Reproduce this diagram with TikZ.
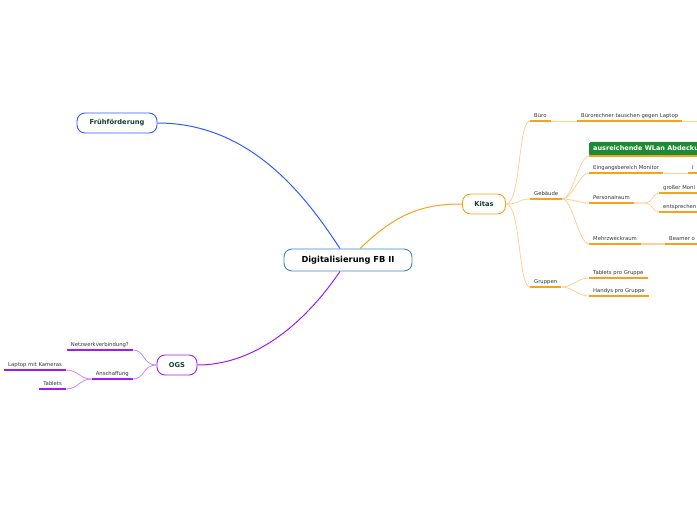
\documentclass[tikz,border=0pt]{standalone}
\usepackage{fontspec}
\setmainfont{DejaVu Sans}
\usetikzlibrary{positioning}
\definecolor{rootblue}{HTML}{3D86C6}
\definecolor{ffblue}{HTML}{2F5BFF}
\definecolor{kitaor}{HTML}{F7A21B}
\definecolor{kitalight}{HTML}{FCD196}
\definecolor{ogspurple}{HTML}{A21CF0}
\definecolor{ogslight}{HTML}{C98AF5}
\definecolor{topicgreen}{HTML}{123F2F}
\definecolor{wlangreen}{HTML}{1E8A34}
\definecolor{leafgray}{HTML}{333333}

\begin{document}
\begin{tikzpicture}[x=1pt,y=-1pt,
  root/.style={draw=rootblue,line width=0.9pt,rounded corners=8pt,fill=white,minimum width=128pt,minimum height=22pt,font=\fontsize{8.3}{10}\selectfont\bfseries},
  topic/.style={draw=#1,line width=0.9pt,rounded corners=8pt,fill=white,minimum height=20pt,text=topicgreen,font=\fontsize{6.7}{8}\selectfont\bfseries},
  leaf/.style={inner xsep=4pt,inner ysep=2pt,text height=4pt,text depth=1pt,text=leafgray,font=\fontsize{5.3}{6}\selectfont},
  wlanbox/.style={fill=wlangreen,rounded corners=1.5pt,text=white,inner xsep=4pt,minimum height=14pt,font=\fontsize{6.5}{8}\selectfont\bfseries},
  conn/.style={line width=1pt,draw=#1},
  kul/.style={line width=1.6pt,draw=kitaor},
  klight/.style={line width=0.8pt,draw=kitalight},
  oul/.style={line width=1.6pt,draw=ogspurple},
  olight/.style={line width=0.8pt,draw=ogslight}
]
\clip (0,0) rectangle (697,520);

% main topics
\node[root] (c) at (348,260) {Digitalisierung FB II};
\node[topic=ffblue,minimum width=80pt] (ff) at (117,123) {Frühförderung};
\node[topic=kitaor,minimum width=43pt] (k) at (484,204) {Kitas};
\node[topic=ogspurple,minimum width=40pt] (ogs) at (177,365) {OGS};

\draw[conn=ffblue] ([xshift=-8pt]c.north) .. controls (305,195) and (250,123) .. (ff.east);
\draw[conn=kitaor] ([xshift=12pt]c.north) .. controls (395,215) and (420,204) .. (k.west);
\draw[conn=ogspurple] ([xshift=-8pt]c.south) .. controls (300,330) and (250,365) .. (ogs.east);

% Kitas
\node[leaf,anchor=south west] (bu) at (530,121) {Büro};
\node[leaf,anchor=south west] (br) at (577,121) {Bürorechner tauschen gegen Laptop};
\node[leaf,anchor=south west] (geb) at (530,199) {Gebäude};
\node[leaf,anchor=south west] (gr) at (530,287) {Gruppen};
\node[wlanbox,anchor=south west] (wl) at (589,156) {ausreichende WLan Abdeckung};
\node[leaf,anchor=south west] (ein) at (589,173) {Eingangsbereich Monitor};
\node[leaf,anchor=south west,text width=20pt] (ei) at (688,173) {I};
\node[leaf,anchor=south west] (per) at (589,203) {Personalraum};
\node[leaf,anchor=south west,text width=45pt] (gm) at (659,193) {großer Moni};
\node[leaf,anchor=south west,text width=45pt] (en) at (659,212) {entsprechen};
\node[leaf,anchor=south west] (mz) at (589,244) {Mehrzweckraum};
\node[leaf,anchor=south west,text width=40pt] (be) at (665,244) {Beamer o};
\node[leaf,anchor=south west] (tp) at (589,278) {Tablets pro Gruppe};
\node[leaf,anchor=south west] (hp) at (589,296) {Handys pro Gruppe};
\coordinate (brend) at (700,121);

\foreach \n in {bu,geb,gr}
  \draw[klight] (k.east) .. controls +(15,0) and +(-12,0) .. (\n.south west);
\foreach \n in {wl,ein,per,mz}
  \draw[klight] (geb.south east) .. controls +(10,0) and +(-10,0) .. (\n.south west);
\foreach \n in {gm,en}
  \draw[klight] (per.south east) -- ++(12,0) .. controls +(6,0) and +(-6,0) .. (\n.south west);
\foreach \n in {tp,hp}
  \draw[klight] (gr.south east) .. controls +(12,0) and +(-12,0) .. (\n.south west);
\draw[klight] (bu.south east) -- (br.south west);
\draw[klight] (br.south east) -- (brend);
\draw[klight] (ein.south east) -- (ei.south west);
\draw[kitalight,line width=1.6pt] (mz.south east) -- (be.south west);
\foreach \n in {bu,br,geb,gr,wl,ein,ei,per,gm,en,mz,be,tp,hp}
  \draw[kul] (\n.south west) -- (\n.south east);

% OGS
\node[leaf,anchor=south east] (nv) at (133,350) {Netzwerkverbindung?};
\node[leaf,anchor=south east] (an) at (133,379) {Anschaffung};
\node[leaf,anchor=south east] (lm) at (66,370) {Laptop mit Kameras};
\node[leaf,anchor=south east] (tb) at (66,389) {Tablets};

\foreach \n in {nv,an}
  \draw[olight] (ogs.west) .. controls +(-14,0) and +(12,0) .. (\n.south east);
\foreach \n in {lm,tb}
  \draw[olight] (an.south west) .. controls +(-12,0) and +(12,0) .. (\n.south east);
\foreach \n in {nv,an,lm,tb}
  \draw[oul] (\n.south west) -- (\n.south east);
\end{tikzpicture}
\end{document}
